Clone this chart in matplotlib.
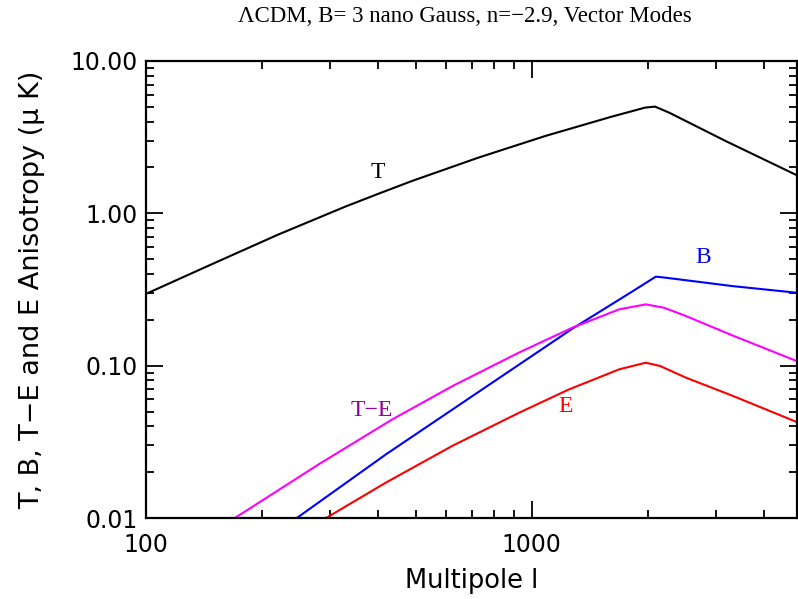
import numpy as np
import matplotlib
matplotlib.use("Agg")
import matplotlib.pyplot as plt
from matplotlib.ticker import FixedLocator, NullFormatter, LogLocator

# Multipole moments and anisotropy amplitudes (micro K) for each spectrum
ell_T = [100, 148, 220, 328, 401, 489, 727, 1083, 1612, 1966, 2086, 2270, 3182, 4867]
amp_T = [0.296, 0.463, 0.725, 1.105, 1.347, 1.630, 2.321, 3.218, 4.314, 4.943, 5.019, 4.58, 2.98, 1.776]

ell_B = [246, 419, 823, 1274, 1822, 1974, 2095, 2223, 3309, 4867]
amp_B = [0.010, 0.0262, 0.083, 0.175, 0.307, 0.349, 0.384, 0.378, 0.333, 0.301]

ell_TE = [170, 281, 435, 623, 927, 1274, 1684, 1974, 2200, 2506, 3309, 4867]
amp_TE = [0.010, 0.0226, 0.0444, 0.0735, 0.122, 0.1776, 0.2343, 0.2526, 0.240, 0.212, 0.158, 0.107]

ell_E = [293, 419, 623, 927, 1249, 1684, 1974, 2150, 2506, 3309, 4867]
amp_E = [0.010, 0.0171, 0.0298, 0.0491, 0.0699, 0.0946, 0.1046, 0.0995, 0.0835, 0.0635, 0.0426]

y_ticks = [0.01, 0.1, 1.0, 10.0]
y_tick_labels = ["0.01", "0.10", "1.00", "10.00"]
x_ticks = [100, 1000]
x_tick_labels = ["100", "1000"]

W, H = 798, 599
fig = plt.figure(figsize=(W / 100, H / 100), dpi=100)
ax = fig.add_axes([146 / W, 1 - 518 / H, (797 - 146) / W, (518 - 61) / H])

ax.plot(ell_T, amp_T, color="black", lw=1.5)
ax.plot(ell_B, amp_B, color="#0000ff", lw=1.5)
ax.plot(ell_TE, amp_TE, color="#ff00ff", lw=1.5)
ax.plot(ell_E, amp_E, color="#ff0000", lw=1.5)

ax.set_xscale("log")
ax.set_yscale("log")
ax.set_xlim(100, 4867)
ax.set_ylim(0.01, 10.0)

sans = "DejaVu Sans"
ax.xaxis.set_major_locator(FixedLocator(x_ticks))
ax.set_xticklabels(x_tick_labels, fontfamily=sans, fontsize=17)
ax.xaxis.set_minor_locator(LogLocator(base=10, subs=np.arange(2, 10)))
ax.xaxis.set_minor_formatter(NullFormatter())
ax.yaxis.set_major_locator(FixedLocator(y_ticks))
ax.set_yticklabels(y_tick_labels, fontfamily=sans, fontsize=17)
ax.yaxis.set_minor_locator(LogLocator(base=10, subs=np.arange(2, 10)))
ax.yaxis.set_minor_formatter(NullFormatter())

ax.tick_params(which="both", direction="in", top=True, right=True, width=1.3, color="black")
ax.tick_params(which="major", length=12)
ax.tick_params(which="minor", length=6)
ax.tick_params(axis="y", which="major", pad=6)
ax.tick_params(axis="x", which="major", pad=11)
for s in ax.spines.values():
    s.set_linewidth(1.6)

ax.set_xlabel("Multipole l", fontfamily=sans, fontsize=18.5, labelpad=8)
ax.set_ylabel("T, B, T\u2212E and E Anisotropy (\u03bc K)", fontfamily=sans, fontsize=19.5, labelpad=18)

serif = "Liberation Serif"
fig.text(465 / W, 1 - 16 / H, "\u039bCDM, B= 3 nano Gauss, n=\u22122.9, Vector Modes",
         ha="center", va="center", fontfamily=serif, fontsize=16.5)

# curve labels, placed in figure pixels
labels = [(378, 172, "T", "black"), (703, 257, "B", "#0000ff"),
          (372, 411, "T\u2212E", "#990099"), (566, 406, "E", "#ff0000")]
for x, y, s, c in labels:
    fig.text(x / W, 1 - y / H, s, ha="center", va="center", fontfamily=serif, fontsize=17, color=c)

fig.savefig("out.png", dpi=100)
